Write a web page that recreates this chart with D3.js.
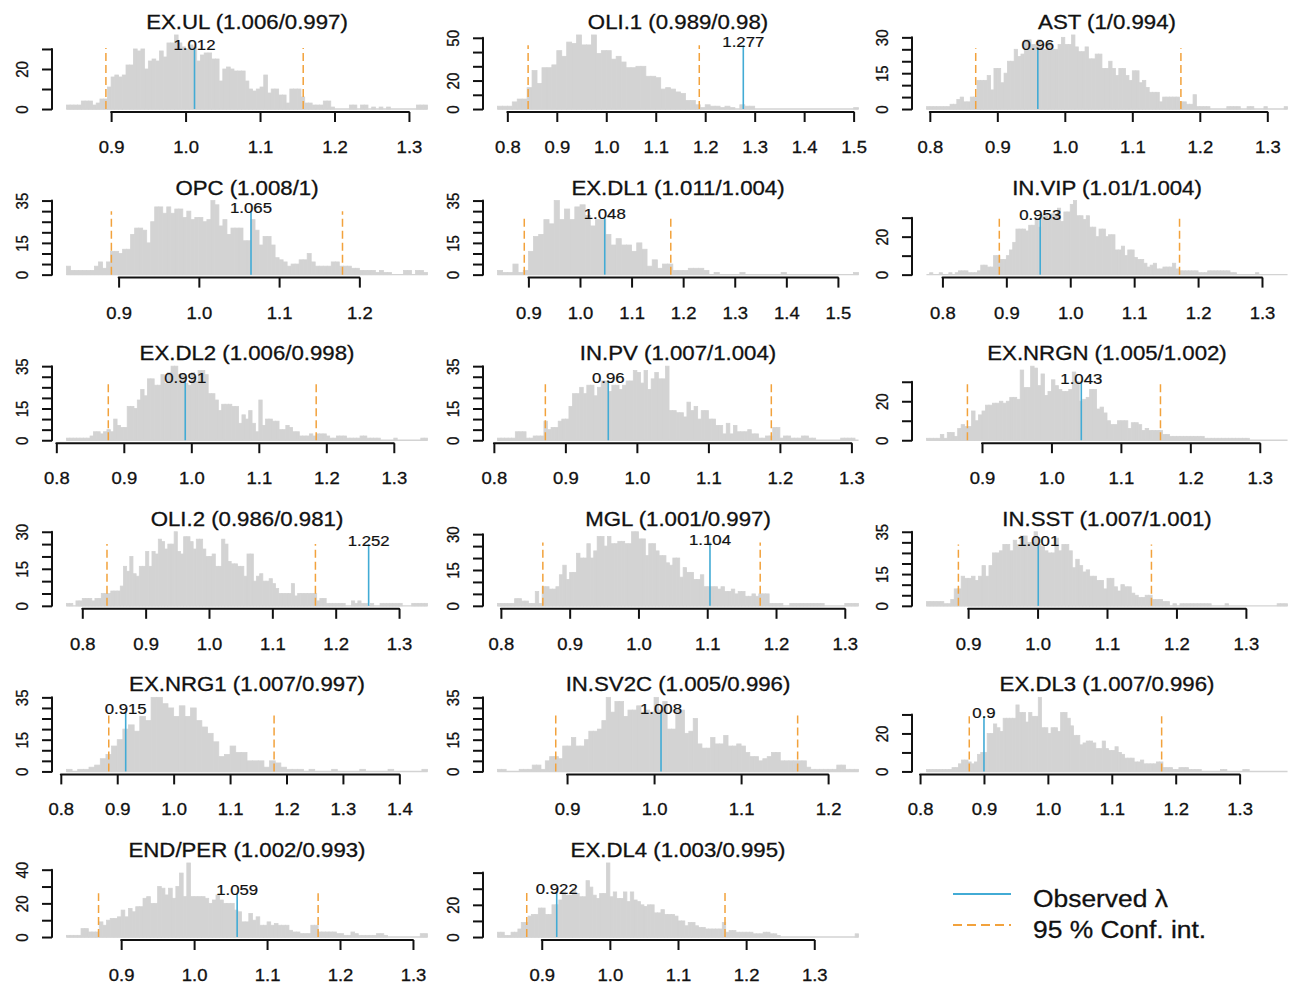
<!DOCTYPE html>
<html>
<head>
<meta charset="utf-8">
<script src="https://cdn.jsdelivr.net/npm/d3@7"></script>
<style>
  body { margin: 0; background: #fff; }
  svg { display: block; }
</style>
</head>
<body>
<div id="container"></div>
<script>
// panel order: left to right, top to bottom
const titles = ["EX.UL (1.006/0.997)", "OLI.1 (0.989/0.98)", "AST (1/0.994)",
  "OPC (1.008/1)", "EX.DL1 (1.011/1.004)", "IN.VIP (1.01/1.004)",
  "EX.DL2 (1.006/0.998)", "IN.PV (1.007/1.004)", "EX.NRGN (1.005/1.002)",
  "OLI.2 (0.986/0.981)", "MGL (1.001/0.997)", "IN.SST (1.007/1.001)",
  "EX.NRG1 (1.007/0.997)", "IN.SV2C (1.005/0.996)", "EX.DL3 (1.007/0.996)",
  "END/PER (1.002/0.993)", "EX.DL4 (1.003/0.995)"];
const observed = [1.012, 1.277, 0.96, 1.065, 1.048, 0.953, 0.991, 0.96, 1.043,
  1.252, 1.104, 1.001, 0.915, 1.008, 0.9, 1.059, 0.922];
const ciLow = [0.893, 0.842, 0.868, 0.891, 0.892, 0.889, 0.877, 0.872, 0.879,
  0.839, 0.861, 0.886, 0.885, 0.887, 0.877, 0.869, 0.878];
const ciHigh = [1.158, 1.188, 1.172, 1.179, 1.176, 1.171, 1.185, 1.188, 1.157,
  1.168, 1.177, 1.164, 1.178, 1.165, 1.178, 1.17, 1.169];
// height (in counts) the vertical lines reach
const lineTops = [30.5, 44.7, 25.4, 30, 27, 30, 28, 28, 30, 25, 26.5, 29, 28, 28, 29, 26, 28];
const binStarts = [0.84, 0.78, 0.795, 0.835, 0.84, 0.775, 0.815, 0.805, 0.82,
  0.775, 0.795, 0.84, 0.81, 0.82, 0.81, 0.825, 0.835];
const binWidths = [0.005, 0.01, 0.005, 0.005, 0.01, 0.005, 0.005, 0.005, 0.005,
  0.005, 0.005, 0.005, 0.01, 0.005, 0.005, 0.005, 0.005];
const xTicks = [
  [0.9, 1.0, 1.1, 1.2, 1.3], [0.8, 0.9, 1.0, 1.1, 1.2, 1.3, 1.4, 1.5], [0.8, 0.9, 1.0, 1.1, 1.2, 1.3],
  [0.9, 1.0, 1.1, 1.2], [0.9, 1.0, 1.1, 1.2, 1.3, 1.4, 1.5], [0.8, 0.9, 1.0, 1.1, 1.2, 1.3],
  [0.8, 0.9, 1.0, 1.1, 1.2, 1.3], [0.8, 0.9, 1.0, 1.1, 1.2, 1.3], [0.9, 1.0, 1.1, 1.2, 1.3],
  [0.8, 0.9, 1.0, 1.1, 1.2, 1.3], [0.8, 0.9, 1.0, 1.1, 1.2, 1.3], [0.9, 1.0, 1.1, 1.2, 1.3],
  [0.8, 0.9, 1.0, 1.1, 1.2, 1.3, 1.4], [0.9, 1.0, 1.1, 1.2], [0.8, 0.9, 1.0, 1.1, 1.2, 1.3],
  [0.9, 1.0, 1.1, 1.2, 1.3], [0.9, 1.0, 1.1, 1.2, 1.3]];
const yTicks = [
  [0, 10, 20, 30], [0, 10, 20, 30, 40, 50], [0, 5, 10, 15, 20, 25, 30],
  [0, 5, 10, 15, 20, 25, 30, 35], [0, 5, 10, 15, 20, 25, 30, 35], [0, 10, 20, 30],
  [0, 5, 10, 15, 20, 25, 30, 35], [0, 5, 10, 15, 20, 25, 30, 35], [0, 10, 20, 30],
  [0, 5, 10, 15, 20, 25, 30], [0, 5, 10, 15, 20, 25, 30], [0, 5, 10, 15, 20, 25, 30, 35],
  [0, 5, 10, 15, 20, 25, 30, 35], [0, 5, 10, 15, 20, 25, 30, 35], [0, 10, 20, 30],
  [0, 10, 20, 30, 40], [0, 10, 20, 30, 40]];
const yLabels = [
  [0, 20], [0, 20, 50], [0, 15, 30], [0, 15, 35], [0, 15, 35], [0, 20],
  [0, 15, 35], [0, 15, 35], [0, 20], [0, 15, 30], [0, 15, 30], [0, 15, 35],
  [0, 15, 35], [0, 15, 35], [0, 20], [0, 20, 40], [0, 20]];

// bin counts
const exUl = [2,2,2,2,4,4,4,2,3,5, 5,11,16,17,16,17,22,22,30,29, 30,20,24,25,24,29,26,33,33,37,
  33,31,30,32,31,24,27,28,28,25, 25,14,20,21,20,19,19,19,14,10, 9,10,11,17,8,10,10,7,7,3,
  10,10,10,6,3,3,2,2,2,4, 4,1,0,0,0,0,2,2,0,2, 2,0,1,0,1,0,1,0,0,0, 0,0,0,0,2,2,2];
const oli1 = [2,2,2,5,7,7,15,27,18,29, 29,31,41,37,47,46,52,45,45,52, 39,41,41,35,37,33,29,29,30,30,
  23,23,22,14,15,14,12,11,6,6, 3,1,3,2,2,1,2,1,0,3, 2,2,0,0,0,0,0,0,0,0,
  0,0,0,0,0,0,0,0,0,0, 0,0,1];
const ast = [1,1,1,1,1,1,1,2,2,4, 5,3,3,5,5,12,12,12,14,8, 17,17,11,15,20,20,25,22,23,29,
  29,27,27,29,25,25,28,25,25,27, 30,27,27,31,26,24,24,26,21,21, 23,23,17,17,20,17,14,17,17,14,
  12,16,16,11,12,9,7,7,7,3, 5,5,5,5,5,3,3,2,2,6, 1,1,1,1,0,0,0,0,0,1,
  1,1,1,0,0,1,1,0,0,0, 1,0,0,0,0,0,1];
const opc = [4,2,2,2,2,2,2,4,6,3, 6,11,11,10,12,12,19,22,22,21, 15,25,32,32,29,32,29,31,31,27,
  30,26,27,27,25,26,35,33,23,26, 19,22,22,22,16,16,26,21,14,18, 18,14,8,7,6,4,5,5,7,7,
  10,6,4,4,4,4,6,6,4,4, 4,3,3,2,2,2,2,1,2,1, 1,0,0,0,2,2,0,2,2,1];
const exDl1 = [2,1,1,5,1,2,11,18,19,26, 24,35,26,31,26,32,33,28,23,26, 26,19,14,17,14,14,11,15,12,4,
  7,3,5,5,2,2,2,3,3,3, 2,0,1,0,0,0,0,1,0,0, 0,0,0,0,0,1,0,0,0,0, 0,0,0,0,0,0,0,0,0,1];
const inVip = [0,1,0,0,1,0,0,1,0,1, 2,2,2,1,1,1,2,5,5,4, 4,10,10,8,8,10,13,17,24,24,
  24,23,26,26,29,25,31,31,29,32, 32,35,28,33,33,37,39,31,31,29, 31,25,25,20,24,24,20,21,21,13,
  13,15,10,13,13,9,8,8,6,4, 5,6,3,3,4,4,4,6,3,2, 2,2,2,2,2,1,1,1,2,2,
  2,2,2,2,2,1,1,0,0,0, 0,0,0,1,0,0,0,0,0,0, 0,0,0];
const exDl2 = [1,1,1,1,1,1,1,2,4,4, 3,4,5,4,10,7,6,6,16,16, 15,19,24,21,29,29,26,26,31,27,
  32,35,35,31,31,27,26,32,28,33, 33,31,22,22,19,14,17,17,17,16, 16,8,12,10,14,8,4,19,7,10,
  10,9,9,5,5,7,6,4,4,2, 2,2,3,2,3,3,3,2,1,1, 2,2,2,1,1,1,1,2,2,1,
  1,1,1,0,0,0,0,1,0,0, 0,0,0,0,0,1,1];
const inPv = [1,1,1,1,1,4,4,4,1,1, 2,2,2,9,5,6,6,9,10,10, 16,22,22,25,22,26,26,21,25,28,
  28,23,26,26,24,26,28,28,33,32, 27,33,24,29,32,29,29,35,14,14, 13,13,11,18,14,16,10,14,14,10,
  10,7,7,3,8,3,7,4,4,4, 5,3,3,1,1,2,2,6,6,1, 2,2,1,1,1,2,2,1,1,0,
  0,0,0,0,0,0,1,1,1,1, 0];
const exNrgn = [1,1,1,1,3,1,4,4,2,6, 8,7,7,15,10,13,15,18,18,19, 19,20,19,20,22,22,21,36,27,27,
  38,37,28,34,23,25,31,28,26,25, 25,26,35,30,20,21,22,26,26,16, 17,14,10,8,8,10,10,10,6,9,
  9,8,5,6,5,5,5,5,3,3, 2,2,2,2,2,2,2,2,2,2, 1,1,1,1,1,1,1,1,1,1,
  1,1,1,0,0,0,0,0,0,0, 0,0,0,0];
const oli2 = [1,1,0,2,2,3,3,3,2,3, 3,5,5,5,6,6,6,8,16,14, 20,13,12,16,16,22,16,22,21,27,
  26,23,25,25,30,22,21,28,28,26, 23,27,27,23,20,20,21,16,16,27, 25,18,17,17,16,16,12,21,21,10,
  12,13,10,10,11,9,7,5,5,5, 5,9,4,5,5,5,5,5,5,2, 3,3,1,1,1,1,1,1,0,0,
  2,1,2,1,1,0,1,0,0,1, 1,1,1,1,1,1,0,0,0,1, 1,1,1,1];
const mgl = [1,1,1,1,1,3,3,2,2,1, 1,6,1,8,8,7,7,8,13,17, 11,14,14,22,20,20,26,20,23,29,
  29,25,29,26,26,27,27,26,26,31, 31,28,28,21,26,26,23,21,21,18, 17,20,20,12,16,14,14,11,11,13,
  8,8,8,8,7,8,6,6,7,5, 6,6,4,4,5,4,5,5,5,1, 1,1,1,0,0,1,1,1,1,1,
  1,1,1,1,1,0,0,0,0,0, 0,1,1,1,1];
const inSst = [2,2,2,2,2,1,1,3,8,8, 14,13,13,14,12,14,19,14,19,25, 25,26,29,29,26,31,29,33,33,30,
  30,35,29,28,26,25,25,32,26,29, 29,26,18,22,19,16,17,14,14,12, 12,8,13,13,9,7,10,9,9,6,
  5,4,4,5,5,3,3,3,2,2, 0,1,0,1,1,1,1,1,1,1, 1,1,0,0,0,0,1,0,0,0,
  0,0,0,0,0,0,0,0,0,0, 0,1,1,1];
const exNrg1 = [1,0,1,1,2,3,6,8,12,15, 20,22,19,26,24,35,35,32,30,26, 31,26,30,24,21,18,14,7,8,12,
  9,9,5,5,5,2,5,4,2,1, 1,1,0,1,0,0,0,1,0,0, 0,0,1,0,0,0,0,1,0,0, 0,0,0,1];
const inSv2c = [1,1,0,0,0,1,1,1,3,3, 1,5,7,7,6,12,12,16,12,12, 15,19,19,20,24,35,28,33,33,26,
  29,29,31,28,29,28,35,29,33,20, 20,29,29,18,19,25,13,11,11,16, 13,13,17,12,12,13,12,9,7,7,
  5,6,7,9,9,5,5,5,5,5, 5,2,1,1,1,1,1,1,3,3, 1,1,1];
const exDl3 = [1,1,1,1,1,1,1,1,2,2, 4,6,6,5,4,5,9,10,10,20, 20,25,23,21,28,28,28,28,35,31,
  31,26,31,29,29,39,23,23,20,23, 23,21,31,31,28,24,19,19,14,15, 16,16,15,12,12,16,12,11,11,13,
  10,9,7,7,7,5,5,6,4,4, 4,4,5,5,2,2,2,1,1,2, 2,2,1,1,1,1,0,0,0,0,
  0,0,1,1,0,0,0,0,0,1, 1,0,0,0,0,0,0,0,0,0, 0,0,0];
const endPer = [1,1,1,1,5,5,3,3,3,9, 7,10,11,11,12,16,12,17,15,18, 18,23,24,20,20,30,29,25,29,23,
  30,38,24,44,24,24,24,24,23,20, 22,25,22,20,20,20,16,15,9,9, 14,10,12,7,7,9,7,8,7,7,
  7,4,3,3,2,2,2,7,7,3, 3,3,3,3,2,2,1,1,3,2, 1,1,1,1,1,2,2,1,0,0, 0,0,0,0,0,0,0,2,2];
const exDl4 = [3,3,1,1,3,3,5,9,9,13, 14,14,18,18,14,14,20,20,23,28, 26,26,30,27,25,25,35,31,26,24,
  27,27,46,25,28,24,24,28,22,28, 23,22,20,19,20,20,15,15,17,14, 14,14,13,10,10,7,9,9,7,6,
  6,5,5,5,5,5,9,3,4,4, 3,3,3,3,3,2,2,2,3,3, 2,2,1,0,0,0,0,0,0,0,
  0,0,0,0,0,0,0,0,0,0, 0,0,0,0,0,2];
const panelCounts = [exUl, oli1, ast, opc, exDl1, inVip, exDl2, inPv, exNrgn,
  oli2, mgl, inSst, exNrg1, inSv2c, exDl3, endPer, exDl4];

const legendLabels = ["Observed \u03bb", "95 % Conf. int."];

const width = 1296;
const height = 984;
const colLeft = [52, 483, 912];
const plotW = 390;
const plotH = 80;
const firstBottom = 112;
const rowStep = 165.6;
const SX = 1.2; // text in the picture is a bit wide

const barColor = "#d3d3d3";
const obsColor = "#42abd5";
const ciColor = "#f2a23c";
const inkColor = "#111";
const font = "'Liberation Sans', Arial, sans-serif";

const svg = d3.create("svg").attr("width", width).attr("height", height)
  .attr("font-family", font);

panelCounts.forEach((counts, i) => {
  const row = Math.floor(i / 3);
  const col = i % 3;
  const left = colLeft[col];
  const bottom = firstBottom + row * rowStep;
  const top = bottom - plotH;

  const start = binStarts[i];
  const bw = binWidths[i];
  const end = start + counts.length * bw;
  const pad = (end - start) * 0.04;
  const x = d3.scaleLinear().domain([start - pad, end + pad]).range([left, left + plotW]);
  const maxCount = d3.max(counts);
  const y = d3.scaleLinear().domain([-0.04 * maxCount, maxCount * 1.04]).range([bottom, top]);

  const g = svg.append("g");

  // empty bins still show as a thin line along zero
  g.append("line")
    .attr("x1", x(start)).attr("x2", x(end))
    .attr("y1", y(0)).attr("y2", y(0))
    .attr("stroke", barColor).attr("stroke-width", 1.4);

  const bins = counts.map((c, k) => ({ x0: start + k * bw, x1: start + (k + 1) * bw, c }));
  g.append("g")
    .selectAll("rect")
    .data(bins.filter((d) => d.c > 0))
    .join("rect")
    .attr("x", (d) => x(d.x0))
    .attr("width", (d) => x(d.x1) - x(d.x0))
    .attr("y", (d) => y(d.c))
    .attr("height", (d) => y(0) - y(d.c))
    .attr("fill", barColor)
    .attr("stroke", barColor)
    .attr("stroke-width", 0.8);

  // confidence limits
  [ciLow[i], ciHigh[i]].forEach((v) => {
    g.append("line")
      .attr("x1", x(v)).attr("x2", x(v))
      .attr("y1", y(0)).attr("y2", y(lineTops[i]))
      .attr("stroke", ciColor)
      .attr("stroke-width", 1.5)
      .attr("stroke-dasharray", "8,4");
  });

  g.append("line")
    .attr("x1", x(observed[i])).attr("x2", x(observed[i]))
    .attr("y1", y(0)).attr("y2", y(lineTops[i]))
    .attr("stroke", obsColor)
    .attr("stroke-width", 1.6);

  g.append("text")
    .attr("transform", `translate(${x(observed[i])},${y(lineTops[i]) + 2}) scale(${SX},1)`)
    .attr("text-anchor", "middle")
    .attr("font-size", 14)
    .attr("fill", inkColor)
    .attr("stroke", inkColor).attr("stroke-width", 0.2)
    .text(observed[i]);

  // x axis, R style: line only from first to last tick
  const xt = xTicks[i];
  const xAxis = g.append("g")
    .attr("transform", `translate(0,${bottom})`)
    .call(d3.axisBottom(x).tickValues(xt).tickSize(10).tickFormat(d3.format(".1f")))
    .attr("font-size", null)
    .attr("font-family", null);
  xAxis.select(".domain").remove();
  xAxis.append("line")
    .attr("x1", x(xt[0])).attr("x2", x(xt[xt.length - 1]))
    .attr("stroke", inkColor).attr("stroke-width", 2).attr("stroke-linecap", "round");
  xAxis.selectAll(".tick line").attr("stroke", inkColor).attr("stroke-width", 2);
  xAxis.selectAll(".tick text")
    .attr("y", 41).attr("dy", 0)
    .attr("transform", `scale(1.12,1)`)
    .attr("font-size", 16.5)
    .attr("fill", inkColor)
    .attr("stroke", inkColor).attr("stroke-width", 0.3);

  const yt = yTicks[i];
  const yAxis = g.append("g")
    .attr("transform", `translate(${left},0)`)
    .call(d3.axisLeft(y).tickValues(yt).tickSize(10)
      .tickFormat((d) => (yLabels[i].includes(d) ? d : "")))
    .attr("font-size", null)
    .attr("font-family", null);
  yAxis.select(".domain").remove();
  yAxis.append("line")
    .attr("y1", y(yt[0])).attr("y2", y(yt[yt.length - 1]))
    .attr("stroke", inkColor).attr("stroke-width", 2).attr("stroke-linecap", "round");
  yAxis.selectAll(".tick line").attr("stroke", inkColor).attr("stroke-width", 2);
  yAxis.selectAll(".tick text")
    .attr("x", 0).attr("dy", 0)
    .attr("text-anchor", "middle")
    .attr("transform", `translate(-24,0) scale(1.1,1) rotate(-90)`)
    .attr("font-size", 15)
    .attr("fill", inkColor)
    .attr("stroke", inkColor).attr("stroke-width", 0.3);

  g.append("text")
    .attr("transform", `translate(${left + plotW / 2},${top - 3}) scale(1.14,1)`)
    .attr("text-anchor", "middle")
    .attr("font-size", 19.5)
    .attr("fill", inkColor)
    .attr("stroke", inkColor).attr("stroke-width", 0.3)
    .text(titles[i]);
});

// legend in the empty last cell
const legend = svg.append("g");
legend.append("line")
  .attr("x1", 953).attr("x2", 1011).attr("y1", 894).attr("y2", 894)
  .attr("stroke", obsColor).attr("stroke-width", 1.8);
legend.append("line")
  .attr("x1", 953).attr("x2", 1011).attr("y1", 925).attr("y2", 925)
  .attr("stroke", ciColor).attr("stroke-width", 1.8).attr("stroke-dasharray", "9,5");
legendLabels.forEach((t, k) => {
  legend.append("text")
    .attr("transform", `translate(1033,${907 + k * 31}) scale(1.1,1)`)
    .attr("font-size", 24)
    .attr("fill", inkColor)
    .attr("stroke", inkColor).attr("stroke-width", 0.3)
    .text(t);
});

d3.select("#container").append(() => svg.node());
</script>
</body>
</html>
